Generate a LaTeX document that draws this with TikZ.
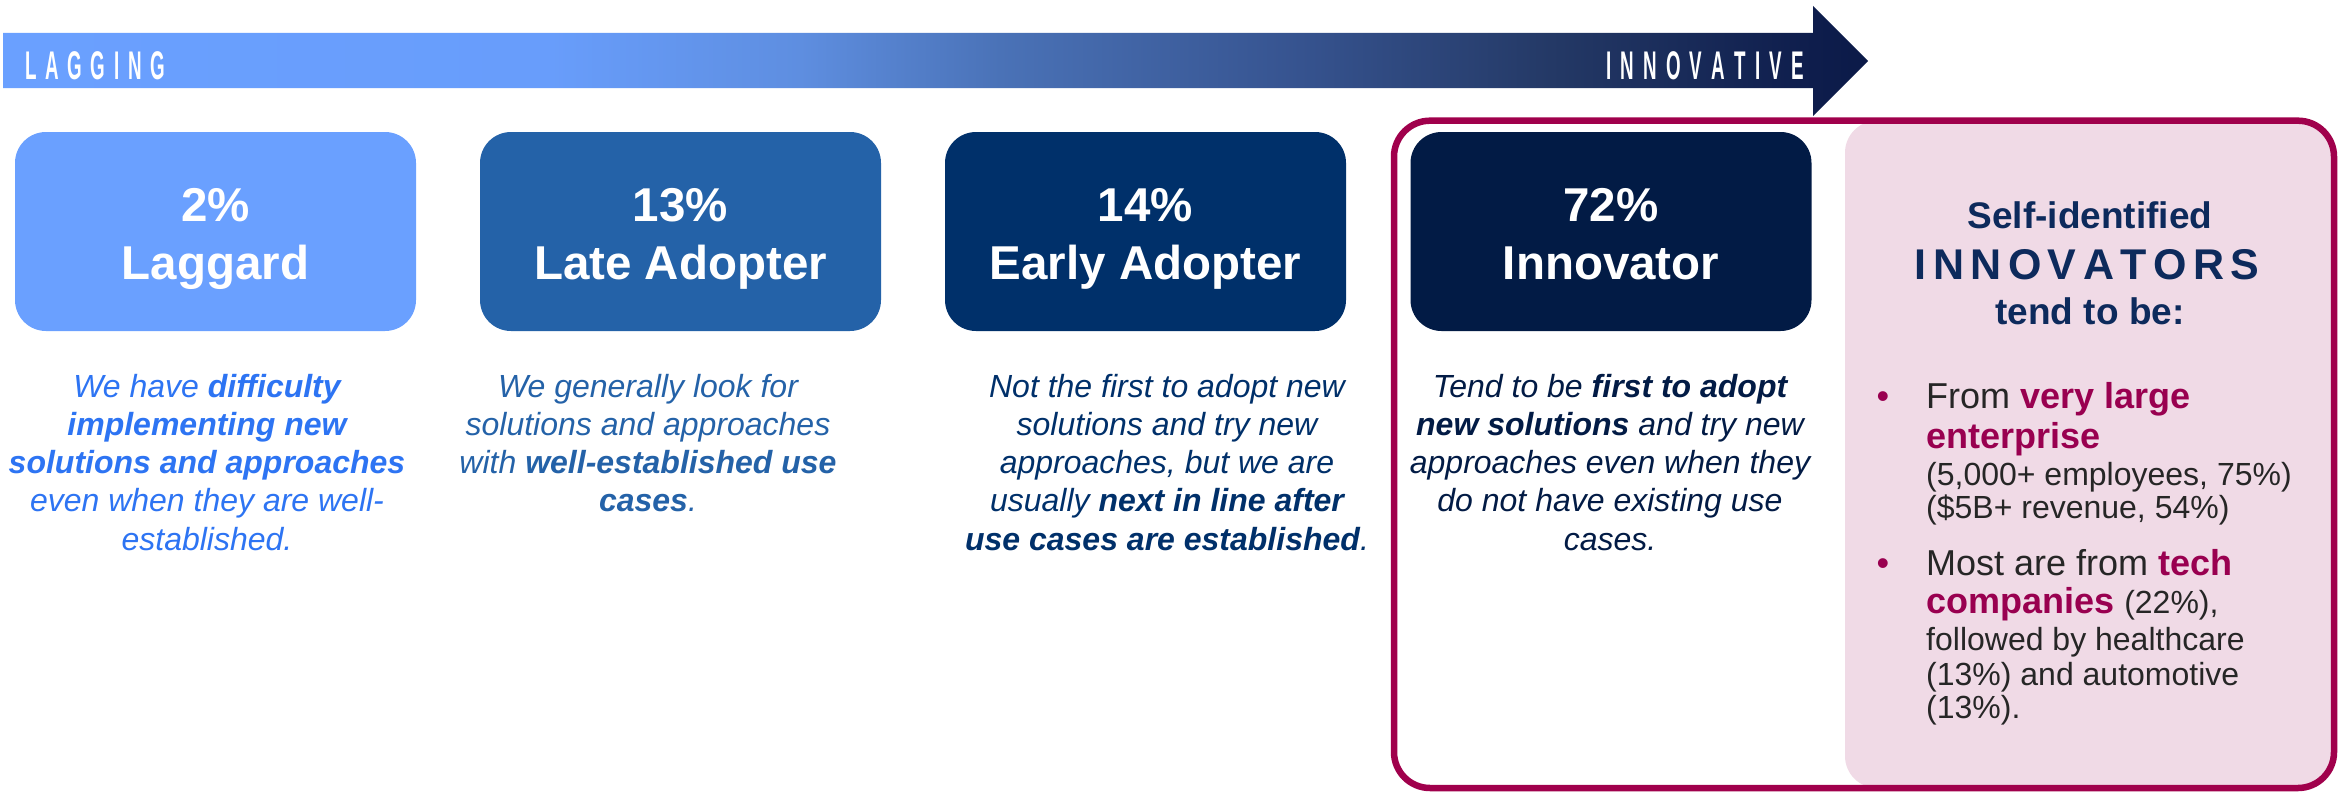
\documentclass[tikz,border=0pt]{standalone}
\usepackage{fontspec}
\setmainfont{Liberation Sans}
\newfontfamily\condfont[FakeStretch=0.47]{Liberation Sans}

\definecolor{cA}{HTML}{6AA0FF}
\definecolor{cB}{HTML}{689DFB}
\definecolor{cC}{HTML}{5E8EE0}
\definecolor{cD}{HTML}{4A72B7}
\definecolor{cE}{HTML}{36538F}
\definecolor{cF}{HTML}{243966}
\definecolor{cG}{HTML}{0E1D4C}
\definecolor{cH}{HTML}{0B1A48}
\pgfdeclarehorizontalshading{arrowshade}{100bp}{color(0bp)=(cA); color(25bp)=(cA); color(39.67bp)=(cB); color(46.37bp)=(cC); color(51.73bp)=(cD); color(59.77bp)=(cE); color(66.48bp)=(cF); color(73.53bp)=(cG); color(75bp)=(cH); color(100bp)=(cH)}

\definecolor{cLag}{HTML}{6AA0FF}
\definecolor{cLagText}{HTML}{2D74F3}
\definecolor{cLate}{HTML}{2462A8}
\definecolor{cEarly}{HTML}{00306A}
\definecolor{cInnov}{HTML}{021B45}
\definecolor{cFrame}{HTML}{A0004C}
\definecolor{cPink}{HTML}{F0DAE6}
\definecolor{cNavyHead}{HTML}{0D2A5C}
\definecolor{cDark}{HTML}{262626}
\definecolor{cMaroon}{HTML}{990050}

\begin{document}
\begin{tikzpicture}[x=1pt,y=-1pt,
  catbox/.style={fill=#1, draw=none, rounded corners=31pt, minimum width=401pt, minimum height=199pt, inner sep=0pt},
  cattext/.style={text=white, inner sep=0pt, anchor=base, font=\fontsize{47.5}{58}\selectfont\bfseries},
  desctext/.style={text=#1, inner sep=0pt, anchor=base, font=\fontsize{32}{38.3}\selectfont\itshape},
  tagtext/.style={text=white, inner sep=0pt, font=\condfont\fontsize{40}{42}\selectfont\bfseries},
  hdr/.style={text=cNavyHead, inner sep=0pt, anchor=base, font=\fontsize{37}{40}\selectfont\bfseries},
  blsmall/.style={text=cDark, inner sep=0pt, anchor=base west, font=\fontsize{32}{36}\selectfont},
  blbig/.style={text=cDark, inner sep=0pt, anchor=base west, font=\fontsize{36}{40}\selectfont},
  bulletdot/.style={text=cMaroon, inner sep=0pt, anchor=base, font=\fontsize{36}{40}\selectfont}]

\useasboundingbox (0,0) rectangle (2348,792);
\fill[white] (0,0) rectangle (2348,792);

% gradient arrow
\shade[shading=arrowshade] (3,33) -- (1813,33) -- (1813,6) -- (1868,61) -- (1813,116) -- (1813,88) -- (3,88) -- cycle;
\node[tagtext, anchor=base west] (lag) at (25,80) {L\kern8.7pt A\kern8.7pt G\kern8.7pt G\kern8.7pt I\kern8.7pt N\kern8.7pt G};
\node[tagtext, anchor=base east] (inn) at (1804,80) {I\kern9.2pt N\kern9.2pt N\kern9.2pt O\kern9.2pt V\kern9.2pt A\kern9.2pt T\kern9.2pt I\kern9.2pt V\kern9.2pt E};

% innovator frame and pink panel
\fill[cPink, rounded corners=32pt] (1845,120.7) rectangle (2334,788);
\draw[line width=6.5pt, draw=cFrame, rounded corners=36pt] (1394,120.7) rectangle (2334,788);

% category boxes
\node[catbox=cLag] (b1) at (215.5,231.5) {};
\node[catbox=cLate] (b2) at (680.5,231.5) {};
\node[catbox=cEarly] (b3) at (1145.5,231.5) {};
\node[catbox=cInnov] (b4) at (1611,231.5) {};

\node[cattext] (t1) at (215.5,221) {\parbox[t]{400pt}{\centering 2\%\\Laggard}};
\node[cattext] (t2) at (680.5,221) {\parbox[t]{400pt}{\centering 13\%\\Late Adopter}};
\node[cattext] (t3) at (1145.5,221) {\parbox[t]{400pt}{\centering 14\%\\Early Adopter}};
\node[cattext] (t4) at (1611,221) {\parbox[t]{400pt}{\centering 72\%\\Innovator}};

% descriptions
\node[desctext=cLagText] (d1) at (207,397) {\parbox[t]{470pt}{\centering We have \textbf{difficulty}\\\textbf{implementing new}\\\textbf{solutions and approaches}\\even when they are well-\\established.}};
\node[desctext=cLate] (d2) at (648,397) {\parbox[t]{470pt}{\centering We generally look for\\solutions and approaches\\with \textbf{well-established use}\\\textbf{cases}.}};
\node[desctext=cEarly] (d3) at (1167,397) {\parbox[t]{470pt}{\centering Not the first to adopt new\\solutions and try new\\approaches, but we are\\usually \textbf{next in line after}\\\textbf{use cases are established}.}};
\node[desctext=cInnov] (d4) at (1610,397) {\parbox[t]{470pt}{\centering Tend to be \textbf{first to adopt}\\\textbf{new solutions} and try new\\approaches even when they\\do not have existing use\\cases.}};

% pink panel header
\node[hdr] (h1) at (2090,228) {Self-identified};
\node[hdr, font=\fontsize{43}{46}\selectfont\bfseries] (h2) at (2087,279) {I\kern6.4pt N\kern6.4pt N\kern6.4pt O\kern6.4pt V\kern6.4pt A\kern6.4pt T\kern6.4pt O\kern6.4pt R\kern6.4pt S};
\node[hdr] (h3) at (2090,324) {tend to be:};

% bullets
\node[bulletdot] (p1) at (1883,408) {\textbullet};
\node[blbig] (l1) at (1926,408) {From \textbf{\color{cMaroon}very large}};
\node[blbig] (l2) at (1926,448) {\textbf{\color{cMaroon}enterprise}};
\node[blsmall] (l3) at (1926,485) {(5,000+ employees, 75\%)};
\node[blsmall] (l4) at (1926,518) {(\$5B+ revenue, 54\%)};

\node[bulletdot] (p2) at (1883,575) {\textbullet};
\node[blbig] (l5) at (1926,575) {Most are from \textbf{\color{cMaroon}tech}};
\node[blbig] (l6) at (1926,613) {\textbf{\color{cMaroon}companies} {\fontsize{32}{36}\selectfont(22\%),}};
\node[blsmall] (l7) at (1926,650) {followed by healthcare};
\node[blsmall] (l8) at (1926,685) {(13\%) and automotive};
\node[blsmall] (l9) at (1926,718) {(13\%).};
\end{tikzpicture}
\end{document}
